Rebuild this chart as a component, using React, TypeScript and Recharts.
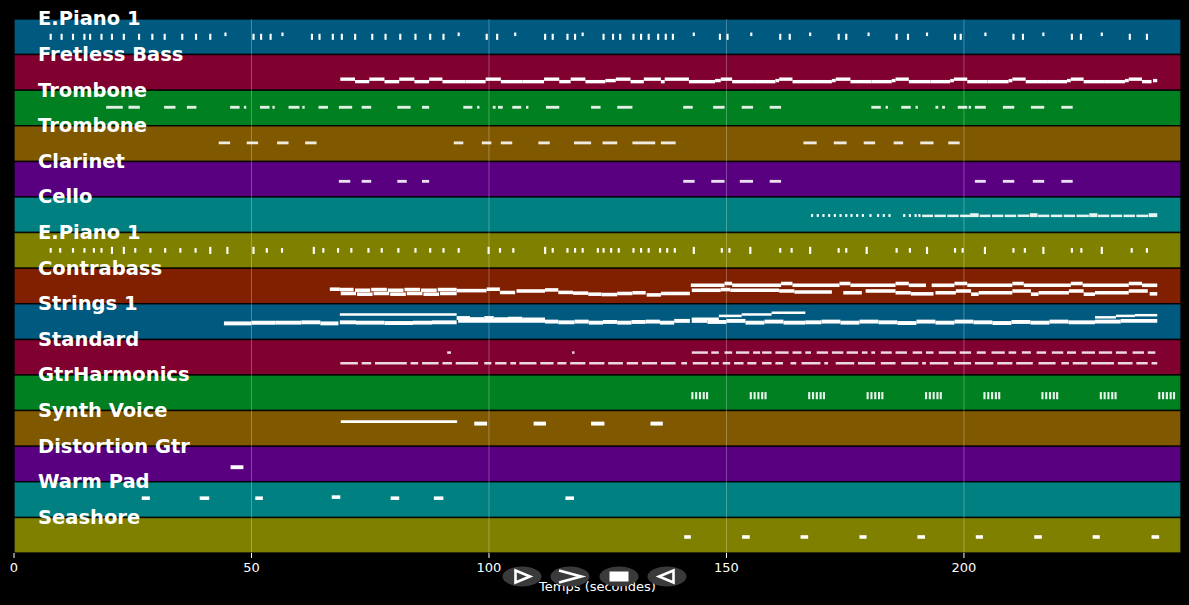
import React from "react";
import { ComposedChart, XAxis, YAxis, ReferenceArea, ReferenceLine, Label } from "recharts";

const W = 1189;
const H = 605;
const T_MAX = 245.7;
const TICK_LEN = 0.45;

// start (s), end (s), level inside the track (0 = bottom, 1 = top)
type Note = [number, number, number];
type Layer = { notes: Note[]; thick: number; opacity?: number };

const trackNames = [
  "E.Piano 1", "Fretless Bass", "Trombone", "Trombone", "Clarinet",
  "Cello", "E.Piano 1", "Contrabass", "Strings 1", "Standard",
  "GtrHarmonics", "Synth Voice", "Distortion Gtr", "Warm Pad", "Seashore",
];
const trackColors = [
  "#005a80", "#800030", "#008020", "#805800", "#580080",
  "#008080", "#808000", "#802000", "#005a80", "#800030",
  "#008020", "#805800", "#580080", "#008080", "#808000",
];
const timeTicks = [0, 50, 100, 150, 200];
const gridTimes = [50, 100, 150, 200];

// E.Piano 1 (top)
const piano1Times = [7.5, 9.8, 12.2, 14.6, 15.8, 18.2, 20.4, 22.9, 26.1, 28.9, 31.5, 35.2, 38.1, 41.1, 50.2, 51.8, 53.8, 62.5, 64.1, 66.9, 68.8, 71.6, 75.2, 78.0, 81.1, 84.3, 87.4, 90.2, 99.3, 101.5, 111.6, 113.2, 116.3, 117.9, 123.9, 125.9, 127.4, 130.2, 131.8, 133.4, 135.4, 137.0, 138.5, 148.4, 150.0, 161.1, 163.1, 173.4, 175.0, 185.6, 188.0, 197.9, 199.1, 210.2, 212.2, 222.5, 224.4, 234.7, 238.3];
const piano1High = [44.3, 56.3, 93.4, 105.3, 119.5, 142.9, 155.0, 167.4, 179.7, 192.0, 204.3, 216.5, 228.8];

// Fretless Bass
const fretless: Note[] = [
  [68.7, 71.8, 0.31], [71.8, 74.8, 0.24], [74.8, 78, 0.31], [78, 81.1, 0.24], [81.1, 84.3, 0.31], [84.3, 87.4, 0.24],
  [87.4, 90.2, 0.31], [90.2, 95, 0.24], [95, 99.3, 0.24], [99.3, 102.5, 0.31], [102.5, 107, 0.24], [107, 111.6, 0.24],
  [111.6, 114.8, 0.31], [114.8, 117.2, 0.24], [117.2, 120.3, 0.31], [120.3, 124.5, 0.24], [124.5, 126.7, 0.27],
  [126.7, 129.8, 0.31], [129.8, 132.6, 0.24], [132.6, 136.2, 0.31], [136.2, 137, 0.24], [137, 142.1, 0.31],
  [142.1, 147.6, 0.24], [147.6, 148.8, 0.27], [148.8, 151.2, 0.31], [151.2, 156, 0.24], [156, 160.3, 0.24],
  [160.3, 161.1, 0.27], [161.1, 163.9, 0.31], [163.9, 168, 0.24], [168, 172.2, 0.24], [172.2, 173, 0.27],
  [173, 176.1, 0.31], [176.1, 180.5, 0.24], [180.5, 184.8, 0.24], [184.8, 185.6, 0.27], [185.6, 188.4, 0.31],
  [188.4, 193, 0.24], [193, 197.1, 0.24], [197.1, 197.9, 0.27], [197.9, 200.7, 0.31], [200.7, 205, 0.24],
  [205, 209.4, 0.24], [209.4, 210.2, 0.27], [210.2, 213, 0.31], [213, 217.5, 0.24], [217.5, 221.7, 0.24],
  [221.7, 222.5, 0.27], [222.5, 225.2, 0.31], [225.2, 229.5, 0.24], [229.5, 233.9, 0.24], [233.9, 234.7, 0.27],
  [234.7, 237.5, 0.31], [237.5, 239.5, 0.24], [239.8, 240.7, 0.27],
];

// Trombone phrases
const trombone1 = [
  [19.4, 22.9], [24.1, 26.5], [31.6, 34], [36.4, 38.4], [45.5, 47.5], [48.4, 48.9], [51.8, 53.8], [54.4, 54.9],
  [57.8, 60.1], [60.7, 61.2], [64.1, 66.1], [68.4, 71.2], [73.2, 75.2], [80.7, 83.5], [85.9, 87.4], [94.6, 96.5],
  [97.5, 98], [100.8, 101.4], [101.9, 102.9], [104.9, 106.8], [107.8, 108.3], [112, 114.8], [121.5, 123.5],
  [127, 130.2], [140.9, 142.9], [147.2, 149.6], [153.2, 155.6], [159.1, 161.5], [180.5, 182.5], [183.5, 184],
  [186.8, 188.8], [189.8, 190.3], [194, 194.6], [195.4, 196], [198.7, 200.7], [201, 201.5], [202.3, 204.6],
  [208.2, 210.6], [214.1, 216.9], [220.5, 222.9],
];
const trombone2 = [
  [43.1, 45.5], [49, 51.4], [55.4, 57.8], [61.3, 63.7], [92.6, 94.6], [98.5, 100.5], [102.5, 104.9], [110.4, 112.8],
  [117.9, 121.5], [123.9, 127], [130.2, 135], [136.2, 139.3], [166.2, 169], [172.6, 175.3], [178.9, 181.3],
  [185.2, 187.2], [190.8, 193.6], [196.7, 199.1],
];
const clarinet = [
  [68.4, 70.8], [73.2, 75.2], [80.7, 82.7], [85.9, 87.4], [140.9, 143.3], [146.8, 149.6], [152.8, 155.6],
  [159.1, 161.5], [202.3, 204.6], [208.2, 210.6], [214.5, 216.9], [220.5, 222.9],
];

// Cello
const celloTimes = [167.8, 169, 170.2, 171.4, 172.6, 173.8, 175, 176.1, 177.3, 178.5, 180.1, 181.7, 182.9, 184.1, 187.2, 188.4, 189.6, 190.4];
const celloRun = [
  [191.2, 193.5], [193.8, 196.2], [196.5, 198.9], [199.2, 201.3], [203.3, 205.6], [205.9, 208.3], [208.6, 211],
  [211.3, 213.8], [215.6, 218], [218.3, 220.7], [221, 223.4], [223.7, 226.3], [228.2, 230.6], [230.9, 233.3],
  [233.6, 236], [236.3, 238.8],
];
const celloTrills = [[201.3, 203.1], [213.9, 215.5], [226.4, 228.1], [238.9, 240.7]];

// E.Piano 1 (second)
const piano2Times = [7.5, 9.5, 12.2, 14.6, 16.6, 18.2, 25.3, 28.5, 31.6, 34.8, 38.0, 53.0, 56.2, 64.9, 68.0, 70.8, 74.4, 77.2, 80.7, 84.3, 87.4, 90.2, 93.4, 102.1, 104.9, 113.2, 116.3, 117.9, 119.5, 122.7, 123.9, 125.5, 127.1, 130.2, 131.8, 133.4, 135.8, 137.3, 138.9, 148.8, 150.4, 161.1, 163.5, 173.4, 175, 185.6, 188.4, 197.9, 199.5, 210.2, 212.6, 222.5, 224.5, 235.1, 238.3];
const piano2Tall = [20.4, 22.9, 41.1, 44.7, 50.2, 62.9, 99.7, 111.6, 142.9, 154.8, 167.4, 179.3, 192, 204.2, 216.5, 228.8];

// Contrabass
const contrabass: Note[] = [
  [66.5, 68.6, 0.41], [68.6, 71.5, 0.4], [71.8, 75, 0.38], [75.2, 78.5, 0.4], [78.7, 82, 0.38], [82.2, 85.5, 0.4],
  [85.7, 89, 0.38], [89.2, 93.2, 0.4],
  [68.8, 72, 0.29], [72.2, 75.5, 0.27], [75.7, 79, 0.29], [79.2, 82.5, 0.27], [82.7, 86, 0.29], [86.2, 89.5, 0.27],
  [89.7, 93.2, 0.29],
  [93.2, 99.5, 0.37], [99.5, 102.3, 0.41], [102.3, 105.5, 0.32], [105.8, 111.8, 0.36], [111.8, 114.6, 0.39],
  [114.6, 117.7, 0.32], [117.7, 120.9, 0.3], [120.9, 123.7, 0.27], [123.7, 127, 0.26], [127, 130.2, 0.29],
  [130.2, 133, 0.31], [133.2, 136.2, 0.25], [136.2, 142.3, 0.29],
  [142.5, 149.6, 0.52], [149.6, 151.2, 0.57], [151.2, 161.5, 0.52], [161.5, 163.9, 0.57], [163.9, 173.8, 0.52],
  [173.8, 176.1, 0.57], [176.1, 185.6, 0.52], [185.6, 188.4, 0.57], [188.4, 192, 0.52], [193.2, 198, 0.52],
  [198, 200.7, 0.57], [200.7, 210.2, 0.52], [210.2, 212.6, 0.57], [212.6, 222.5, 0.52], [222.5, 225, 0.57],
  [225, 234.7, 0.52], [234.7, 237.5, 0.57], [237.5, 240.7, 0.52],
  [142.7, 148.8, 0.38], [148.8, 150.8, 0.4], [150.8, 161.1, 0.38], [161.1, 164.3, 0.36], [164.3, 172.2, 0.33],
  [174.6, 178.5, 0.31], [179.3, 185.6, 0.36], [185.6, 188.8, 0.31], [188.8, 193.6, 0.28], [194, 198.3, 0.31],
  [198.3, 201.5, 0.36], [201.5, 203.1, 0.27], [203.1, 210.2, 0.31], [210.2, 214.1, 0.36], [214.1, 215.7, 0.27],
  [215.7, 222.1, 0.31], [222.1, 225.2, 0.36], [225.2, 227.6, 0.27], [227.6, 234.7, 0.31], [234.7, 238.7, 0.36],
  [239.1, 240.7, 0.28],
];

// Strings 1
const stringsUpper: Note[] = [
  [68.6, 93.2, 0.7], [142.7, 148.4, 0.58], [148.4, 153.2, 0.66], [153.2, 159.5, 0.7], [159.5, 166.6, 0.75],
  [227.6, 232, 0.62], [232, 236, 0.66], [236, 240.7, 0.68],
];
const stringsMain: Note[] = [
  [44.2, 50, 0.45], [50, 55, 0.47], [55, 60.5, 0.47], [60.5, 64.5, 0.48], [64.5, 68.3, 0.45],
  [68.6, 72, 0.48], [72, 78, 0.47], [78, 84, 0.46], [84, 88, 0.47], [88, 93.2, 0.48],
  [93.2, 96, 0.6], [96, 99, 0.57], [99, 101, 0.6], [101, 104, 0.57], [104, 107, 0.58], [107, 111.8, 0.56],
  [93.5, 111.8, 0.52],
  [111.8, 114.6, 0.5], [114.6, 118, 0.48], [118, 121, 0.5], [121, 124, 0.47], [124, 127, 0.49], [127, 130, 0.47],
  [130, 133, 0.49], [133, 136, 0.5], [136, 139, 0.47], [139, 142.3, 0.52],
  [142.7, 146, 0.52], [146, 150, 0.49], [150, 154, 0.52], [154, 158, 0.47], [158, 162, 0.5], [162, 166.6, 0.47],
  [166.6, 170, 0.48], [170, 174, 0.5], [174, 178, 0.47], [178, 182, 0.5], [182, 186, 0.48], [186, 190, 0.46],
  [190, 194, 0.5], [194, 198, 0.47], [198, 202, 0.5], [202, 206, 0.48], [206, 210, 0.46], [210, 214, 0.49],
  [214, 218, 0.47], [218, 222, 0.5], [222, 227.6, 0.48], [227.6, 233, 0.5], [233, 240.7, 0.52],
];

// Standard (drums)
const drumsLow = [
  [68.7, 72.4], [73.2, 75.2], [76, 82.7], [83.5, 85.1], [85.9, 89.4], [90.2, 92.2], [93, 97.7], [99, 100.5],
  [101.3, 103.7], [104.5, 105.7], [106.4, 110], [110.8, 113.6], [114.4, 116.3], [117.1, 120.3], [121.1, 124.3],
  [125.1, 128.2], [129, 131.4], [132.2, 135.4], [136.2, 139.3], [140.5, 141.7], [142.9, 146.1], [146.8, 148.4],
  [149.2, 150.8], [151.6, 153.6], [154.4, 156.3], [157.5, 159.5], [160.3, 161.9], [163.5, 164.7], [165.8, 169.8],
  [170.6, 171.4], [173, 176.9], [177.7, 181.3], [182.5, 185.6], [186.8, 190.4], [191.2, 192], [192.8, 196.7],
  [197.9, 201.5], [202.3, 206.2], [207, 210.2], [211, 214.5], [215.7, 219.3], [220.5, 222.1], [222.9, 226],
  [226.8, 231.6], [232.4, 235.5], [236.3, 238.7], [239.5, 240.7],
];
const drumsHigh = [
  [91.2, 92], [117.5, 118], [142.7, 146.1], [146.8, 148.4], [149.6, 151.2], [152, 154.8], [155.6, 157.1],
  [157.5, 159.5], [160.3, 163.1], [163.9, 165.8], [166.6, 167.8], [169, 171.4], [172.2, 174.6], [175.3, 177.7],
  [178.5, 179.7], [180.5, 181.3], [182.5, 184.8], [185.6, 188], [189.2, 191.2], [192, 193.6], [194.7, 198.3],
  [199.1, 201.5], [202.7, 204.6], [205.8, 208.6], [209.4, 211], [212.2, 214.1], [215.3, 217.3], [218.5, 220.9],
  [221.7, 223.6], [224.8, 227.6], [228.4, 231.2], [232, 234.3], [235.5, 237.9], [238.7, 240.3],
];

// GtrHarmonics
const harmonicsTimes = [
  142.6, 143.4, 144.2, 145.0, 145.7, 154.9, 155.7, 156.5, 157.3, 158.0, 167.2, 168.0, 168.8, 169.6, 170.3,
  179.5, 180.3, 181.1, 181.9, 182.6, 191.8, 192.6, 193.4, 194.2, 194.9, 204.1, 204.9, 205.7, 206.5, 207.2,
  216.3, 217.1, 217.9, 218.7, 219.4, 228.6, 229.4, 230.2, 231.0, 231.7, 240.9, 241.7, 242.5, 243.3, 244.0,
];

const synthLong = [[68.8, 93.3]];
const synthShort = [[96.9, 99.6], [109.4, 112], [121.5, 124.3], [134, 136.6]];
const distortion = [[45.6, 48.3]];
const warmPad: Note[] = [
  [26.9, 28.6, 0.54], [39.1, 41.1, 0.54], [50.8, 52.4, 0.54], [66.9, 68.7, 0.57], [79.3, 81.1, 0.54],
  [88.4, 90.4, 0.54], [116.1, 117.9, 0.54],
];
const seashore = [
  [141.1, 142.5], [153.3, 154.9], [165.6, 167.2], [178, 179.5], [190.2, 191.8], [202.5, 204], [214.8, 216.4],
  [227.1, 228.6], [239.5, 241.1],
];

const span = (pairs: number[][], level: number): Note[] => pairs.map(([a, b]) => [a, b, level] as Note);
const ticks = (times: number[], level: number): Note[] => times.map((t) => [t, t + TICK_LEN, level] as Note);

const tracks: Layer[][] = [
  [{ notes: ticks(piano1Times, 0.5), thick: 0.17 }, { notes: ticks(piano1High, 0.57), thick: 0.1 }],
  [{ notes: fretless, thick: 0.095 }],
  [{ notes: span(trombone1, 0.52), thick: 0.08, opacity: 0.88 }],
  [{ notes: span(trombone2, 0.52), thick: 0.08, opacity: 0.88 }],
  [{ notes: span(clarinet, 0.44), thick: 0.08, opacity: 0.88 }],
  [
    { notes: ticks(celloTimes, 0.48), thick: 0.08 },
    { notes: span(celloRun, 0.47), thick: 0.07, opacity: 0.9 },
    { notes: span(celloTrills, 0.49), thick: 0.11, opacity: 0.9 },
  ],
  [{ notes: ticks(piano2Times, 0.5), thick: 0.13 }, { notes: ticks(piano2Tall, 0.5), thick: 0.2 }],
  [{ notes: contrabass, thick: 0.1 }],
  [{ notes: stringsUpper, thick: 0.07 }, { notes: stringsMain, thick: 0.11 }],
  [
    { notes: span(drumsLow, 0.33), thick: 0.07, opacity: 0.85 },
    { notes: span(drumsHigh, 0.63), thick: 0.07, opacity: 0.85 },
  ],
  [{ notes: ticks(harmonicsTimes, 0.42), thick: 0.2, opacity: 0.9 }],
  [{ notes: span(synthLong, 0.69), thick: 0.08 }, { notes: span(synthShort, 0.635), thick: 0.11 }],
  [{ notes: span(distortion, 0.41), thick: 0.11 }],
  [{ notes: warmPad, thick: 0.1 }],
  [{ notes: span(seashore, 0.45), thick: 0.1 }],
];

function TrackName(props: any) {
  const vb = props.viewBox || {};
  return (
    <text
      x={(vb.x ?? 14) + 24}
      y={(vb.y ?? 0) - 0.5}
      dy="0.35em"
      fill="#fff"
      fontSize={19.5}
      fontWeight="bold"
      fontFamily="DejaVu Sans"
    >
      {props.name}
    </text>
  );
}

function PlayerButtons() {
  const centers = [522, 570, 619, 667];
  return (
    <svg width={W} height={H} style={{ position: "absolute", left: 0, top: 0, pointerEvents: "none" }}>
      {centers.map((cx) => (
        <ellipse key={cx} cx={cx} cy={576.5} rx={19.5} ry={10} fill="#3a3a3a" />
      ))}
      <path d="M515.5 570.5 L530 576.5 L515.5 582.5 Z" fill="none" stroke="#fff" strokeWidth={2.6} />
      <path d="M559 570.5 L581 576.5 L559 582.5" fill="none" stroke="#fff" strokeWidth={2.8} />
      <rect x={609.5} y={571.5} width={19} height={10} fill="#fff" />
      <path d="M673.5 570.5 L659 576.5 L673.5 582.5 Z" fill="none" stroke="#fff" strokeWidth={2.6} />
    </svg>
  );
}

export default function App() {
  return (
    <div
      style={{
        position: "absolute",
        left: 0,
        top: 0,
        width: W,
        height: H,
        background: "#000",
        fontFamily: "DejaVu Sans",
      }}
    >
      <ComposedChart width={W} height={H} data={[]} margin={{ top: 19, right: 8, left: 14, bottom: 22 }}>
        <XAxis
          type="number"
          dataKey="t"
          domain={[0, T_MAX]}
          ticks={timeTicks}
          allowDataOverflow
          axisLine={false}
          tickLine={{ stroke: "#fff" }}
          tickSize={5}
          tickMargin={5}
          tick={{ fill: "#fff", fontSize: 13 }}
          height={30}
          label={{ value: "Temps (secondes)", position: "bottom", offset: -1, fill: "#fff", fontSize: 13 }}
        />
        <YAxis type="number" domain={[0, trackNames.length]} reversed hide allowDataOverflow />
        {trackNames.map((name, i) => (
          <ReferenceArea
            key={`band-${i}`}
            x1={0}
            x2={T_MAX}
            y1={i}
            y2={i + 1}
            fill={trackColors[i]}
            fillOpacity={1}
            stroke="#000"
            strokeOpacity={0.85}
            strokeWidth={1.5}
            ifOverflow="visible"
          />
        ))}
        {gridTimes.map((g) => (
          <ReferenceLine key={`grid-${g}`} x={g} stroke="#fff" strokeOpacity={0.28} strokeWidth={1} />
        ))}
        {tracks.flatMap((layers, i) =>
          layers.flatMap((layer, j) =>
            layer.notes.map((n, k) => (
              <ReferenceArea
                key={`note-${i}-${j}-${k}`}
                x1={n[0]}
                x2={n[1]}
                y1={i + 1 - n[2] - layer.thick / 2}
                y2={i + 1 - n[2] + layer.thick / 2}
                fill="#fff"
                fillOpacity={layer.opacity ?? 1}
                stroke="none"
                ifOverflow="visible"
              />
            ))
          )
        )}
        {trackNames.map((name, i) => (
          <ReferenceLine key={`label-${i}`} y={i} stroke="none" ifOverflow="visible">
            <Label content={(p: any) => <TrackName {...p} name={name} />} />
          </ReferenceLine>
        ))}
      </ComposedChart>
      <PlayerButtons />
    </div>
  );
}
